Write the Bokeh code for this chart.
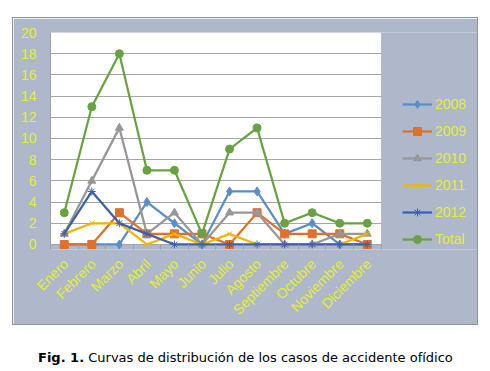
from bokeh.plotting import figure
from bokeh.models import FixedTicker, Range1d, Legend, LegendItem, Div, Spacer, BoxAnnotation
from bokeh.layouts import column, row
from bokeh.embed import file_html
from bokeh.resources import INLINE
import math

months = ["Enero", "Febrero", "Marzo", "Abril", "Mayo", "Junio", "Julio",
          "Agosto", "Septiembre", "Octubre", "Noviembre", "Diciembre"]
y2008 = [0, 0, 0, 4, 2, 0, 5, 5, 1, 2, 0, 0]
y2009 = [0, 0, 3, 1, 1, 1, 0, 3, 1, 1, 1, 0]
y2010 = [1, 6, 11, 1, 3, 0, 3, 3, 0, 0, 1, 1]
y2011 = [1, 2, 2, 0, 1, 0, 1, 0, 0, 0, 0, 1]
y2012 = [1, 5, 2, 1, 0, 0, 0, 0, 0, 0, 0, 0]
total = [3, 13, 18, 7, 7, 1, 9, 11, 2, 3, 2, 2]
y_ticks = [0, 2, 4, 6, 8, 10, 12, 14, 16, 18, 20]

BG = "#AFB8CB"
TXT = "#E4EE2E"
FONT = "Liberation Sans"

n = len(months)
xs = [i + 0.5 for i in range(n)]
label_pos = [x + 0.05 for x in xs]

# plot area: 12 categories over 329 px, 0..20 over 210 px; frame also holds legend area
px_per_x = 329 / n
px_per_y = 210 / 20
frame_w = 427
frame_h = 215
below = frame_h - 210
x_end = frame_w / px_per_x
y_start = -below / px_per_y

p = figure(frame_width=frame_w, frame_height=frame_h, output_backend="svg", toolbar_location=None,
           x_range=Range1d(0, x_end), y_range=Range1d(y_start, 20),
           min_border_left=37, min_border_right=0, min_border_top=14, min_border_bottom=76,
           background_fill_color=BG, border_fill_color=BG, outline_line_color=None)
p.styles = {"border": "1px solid #8C93A3"}

p.add_layout(BoxAnnotation(left=0, right=n, bottom=0, top=20, fill_color="white", fill_alpha=1,
                           line_color=None, level="image"))

p.xaxis.bounds = (0, n)
p.xaxis.ticker = FixedTicker(ticks=label_pos, minor_ticks=list(range(n + 1)))
p.xaxis.major_label_overrides = {x: m for x, m in zip(label_pos, months)}
p.xaxis.major_label_orientation = math.pi / 4
p.xaxis.major_tick_line_color = None
p.xaxis.minor_tick_line_color = "#A0A0A0"
p.xaxis.minor_tick_in = below
p.xaxis.minor_tick_out = 0
p.xaxis.axis_line_color = None
p.xaxis.major_label_standoff = 6

p.yaxis.bounds = (0, 20)
p.yaxis.ticker = FixedTicker(ticks=y_ticks)
p.yaxis.major_tick_line_color = None
p.yaxis.minor_tick_line_color = None
p.yaxis.axis_line_color = "#A0A0A0"
p.yaxis.major_label_standoff = 8

for ax in (p.xaxis, p.yaxis):
    ax.major_label_text_color = TXT
    ax.major_label_text_font = FONT
    ax.major_label_text_font_size = "14px"

p.xgrid.grid_line_color = None
p.ygrid.grid_line_color = "#A6A6A6"
p.ygrid.grid_line_width = 1
try:
    p.ygrid.cross_bounds = (0, n)
except Exception:
    p.ygrid.grid_line_color = None
    p.segment(x0=[0] * len(y_ticks), x1=[n] * len(y_ticks), y0=y_ticks, y1=y_ticks,
              line_color="#A6A6A6", line_width=1, level="underlay")

series = [
    ("2008", y2008, "#5A8ECB", "diamond", 9),
    ("2009", y2009, "#E0702A", "square", 8),
    ("2010", y2010, "#979797", "triangle", 8),
    ("2011", y2011, "#F2B400", "x", 7),
    ("2012", y2012, "#3A61AD", "asterisk", 8),
    ("Total", total, "#68A342", "circle", 8),
]

items = []
for name, ys, col, mk, sz in series:
    ln = p.line(xs, ys, line_color=col, line_width=2.25)
    sc = p.scatter(xs, ys, marker=mk, size=sz, fill_color=col, line_color=col, line_width=1)
    items.append(LegendItem(label=name, renderers=[ln, sc]))

legend = Legend(items=items, location=(352, 0), orientation="vertical")
legend.background_fill_alpha = 0
legend.border_line_color = None
legend.padding = 0
legend.margin = 0
legend.spacing = 7
legend.glyph_width = 30
legend.glyph_height = 20
legend.label_height = 20
legend.label_standoff = 3
legend.label_text_color = TXT
legend.label_text_font = FONT
legend.label_text_font_size = "14px"
p.add_layout(legend, "center")

cap = Div(text='<b>Fig. 1.</b> Curvas de distribuci\u00f3n de los casos de accidente of\u00eddico',
          styles={"font-family": "DejaVu Sans", "font-size": "13px", "color": "black"})

layout = column(Spacer(height=17),
                row(Spacer(width=12), p),
                Spacer(height=19),
                row(Spacer(width=33), cap))
open("out.html", "w").write(file_html(layout, INLINE))
